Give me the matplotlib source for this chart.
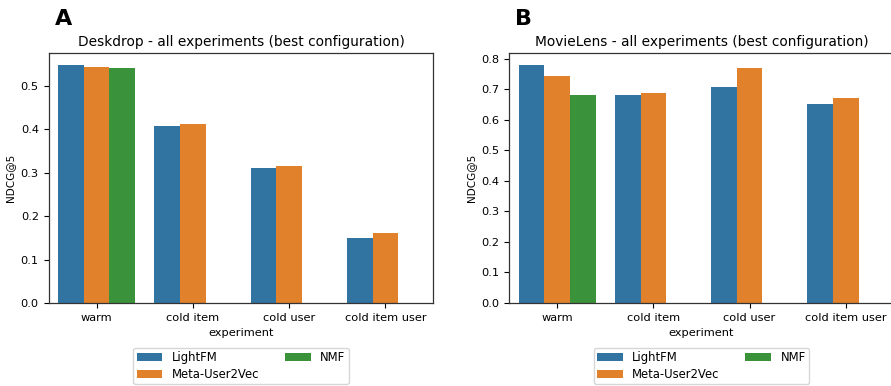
import matplotlib

matplotlib.use("Agg")
import matplotlib.pyplot as plt
import numpy as np

experiments = ["warm", "cold item", "cold user", "cold item user"]
models = ["LightFM", "Meta-User2Vec", "NMF"]
colors = ["#3274a1", "#e1812c", "#3a923a"]

# NDCG@5 per model, NaN where the model has no result
deskdrop_lightfm = [0.548, 0.408, 0.310, 0.150]
deskdrop_meta = [0.543, 0.413, 0.316, 0.161]
deskdrop_nmf = [0.541, np.nan, np.nan, np.nan]

movielens_lightfm = [0.780, 0.683, 0.706, 0.653]
movielens_meta = [0.743, 0.687, 0.770, 0.672]
movielens_nmf = [0.683, np.nan, np.nan, np.nan]

W, H = 891, 386
fig = plt.figure(figsize=(W / 100, H / 100), dpi=100)


def panel(left, title, letter, series):
    ax = fig.add_axes([left / W, 1 - 303 / H, 385 / W, 250 / H])
    x = np.arange(len(experiments))
    width = 0.8 / len(models)
    for i, (name, vals, c) in enumerate(zip(models, series, colors)):
        ax.bar(x + (i - 1) * width, vals, width, color=c, label=name)
    ax.set_xlim(-0.5, len(experiments) - 0.5)
    top = np.nanmax(np.array(series)) * 1.05
    ax.set_ylim(0, top)
    ax.set_xticks(x)
    ax.set_xticklabels(experiments, fontsize=8.2)
    ax.tick_params(axis="y", labelsize=8.2)
    ax.set_xlabel("experiment", fontsize=8.2, labelpad=3.5)
    ax.set_ylabel("NDCG@5", fontsize=7.5)
    ax.set_title(title, fontsize=9.9, pad=5)
    for s in ax.spines.values():
        s.set_color("#333333")
        s.set_linewidth(0.9)
    ax.legend(loc="upper center", bbox_to_anchor=(0.5, -0.155), ncol=2,
              fontsize=8.4, frameon=True, columnspacing=2.2,
              handlelength=2.2, borderpad=0.3, labelspacing=0.32)
    fig.text((left + 6) / W, 1 - 19 / H, letter, fontsize=16, fontweight="bold",
             va="center", ha="left")
    return ax


panel(48.5, "Deskdrop - all experiments (best configuration)", "A",
      [deskdrop_lightfm, deskdrop_meta, deskdrop_nmf])
panel(509, "MovieLens - all experiments (best configuration)", "B",
      [movielens_lightfm, movielens_meta, movielens_nmf])

fig.savefig("out.png", dpi=100)
